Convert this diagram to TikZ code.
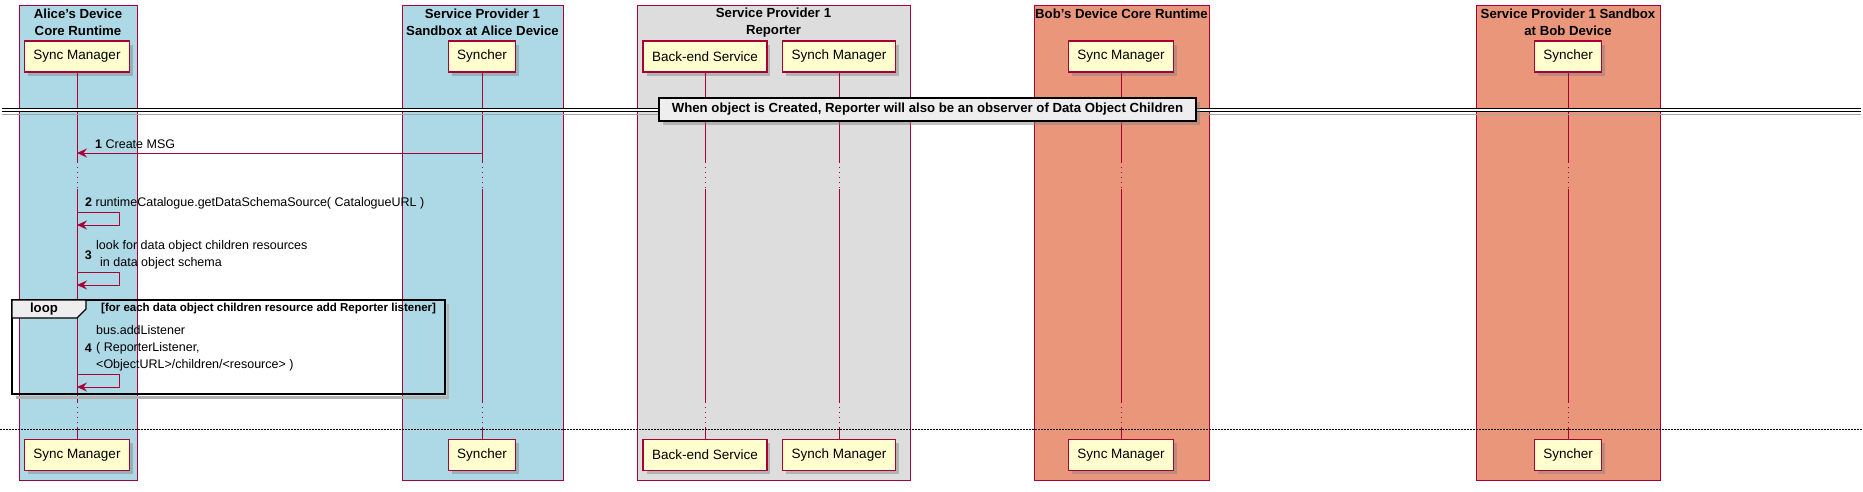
\documentclass[tikz,border=0pt]{standalone}
\usepackage{fontspec}
\setmainfont{Liberation Sans}
\usepackage{tikz}
\usetikzlibrary{arrows.meta,positioning,shadows}
\definecolor{umlred}{HTML}{A80036}
\definecolor{umlpart}{HTML}{FEFECE}
\definecolor{umlblue}{HTML}{ADD8E6}
\definecolor{umlgray}{HTML}{DDDDDD}
\definecolor{umlsalmon}{HTML}{E9967A}
\definecolor{umlnote}{HTML}{EEEEEE}

\begin{document}
\begin{tikzpicture}[x=1pt, y=-1pt,
    grp/.style={draw=umlred, line width=0.9pt},
    grptitle/.style={font=\fontsize{13.2}{17}\selectfont\bfseries, align=center, inner sep=0pt},
    part/.style={draw=umlred, line width=1.3pt, fill=umlpart, minimum height=31pt, inner xsep=9pt,
        font=\fontsize{13.5}{16}\selectfont,
        drop shadow={shadow xshift=3.5pt, shadow yshift=-3.5pt, opacity=0.45}},
    life/.style={draw=umlred, line width=0.7pt},
    lifedot/.style={life, dash pattern=on 1pt off 4pt},
    msg/.style={draw=umlred, line width=0.9pt, -{Stealth[length=10pt,width=9pt,inset=3.5pt]}},
    msgtxt/.style={font=\fontsize{12.5}{17}\selectfont, inner sep=0pt, align=left},
    msgnum/.style={font=\fontsize{12.5}{17}\selectfont\bfseries, inner sep=0pt}]

    \useasboundingbox (0,0) rectangle (1863,491);

    % ----------------------------------------------------
    % GROUP BOXES
    % ----------------------------------------------------
    \draw[grp, fill=umlblue] (19,5) rectangle (137,480);
    \node[grptitle] (titleAlice) at (78,22.5) {Alice's Device\\Core Runtime};

    \draw[grp, fill=umlblue] (402,5) rectangle (563,480);
    \node[grptitle] (titleSandboxA) at (482.5,22.5) {Service Provider 1\\Sandbox at Alice Device};

    \draw[grp, fill=umlgray] (637,5) rectangle (910,480);
    \node[grptitle] (titleReporter) at (773.5,22.5) {Service Provider 1\\Reporter};

    \draw[grp, fill=umlsalmon] (1034,5) rectangle (1209,480);
    \node[grptitle] (titleBob) at (1121.5,14) {Bob's Device Core Runtime};

    \draw[grp, fill=umlsalmon] (1476,5) rectangle (1660,480);
    \node[grptitle] (titleSandboxB) at (1568,22.5) {Service Provider 1 Sandbox\\at Bob Device};

    % ----------------------------------------------------
    % PARTICIPANTS (top and bottom)
    % ----------------------------------------------------
    \node[part] (smAliceTop) at (77,56.5) {Sync Manager};
    \node[part] (syncherATop) at (482,56.5) {Syncher};
    \node[part] (backendTop) at (705,56.5) {Back-end Service};
    \node[part] (synchMgrTop) at (839,56.5) {Synch Manager};
    \node[part] (smBobTop) at (1121,56.5) {Sync Manager};
    \node[part] (syncherBTop) at (1568,56.5) {Syncher};

    \node[part] (smAliceBot) at (77,455) {Sync Manager};
    \node[part] (syncherABot) at (482,455) {Syncher};
    \node[part] (backendBot) at (705,455) {Back-end Service};
    \node[part] (synchMgrBot) at (839,455) {Synch Manager};
    \node[part] (smBobBot) at (1121,455) {Sync Manager};
    \node[part] (syncherBBot) at (1568,455) {Syncher};

    % ----------------------------------------------------
    % LIFELINES
    % ----------------------------------------------------
    \coordinate (dotA) at (0,162);
    \coordinate (dotB) at (0,189);
    \coordinate (dotC) at (0,402);
    \coordinate (dotD) at (0,428);

    \draw[life] (smAliceTop.south) -- (smAliceTop.south |- dotA) (smAliceTop.south |- dotB) -- (smAliceTop.south |- dotC) (smAliceTop.south |- dotD) -- (smAliceBot.north);
    \draw[lifedot] (smAliceTop.south |- dotA) -- (smAliceTop.south |- dotB) (smAliceTop.south |- dotC) -- (smAliceTop.south |- dotD);
    \draw[life] (syncherATop.south) -- (syncherATop.south |- dotA) (syncherATop.south |- dotB) -- (syncherATop.south |- dotC) (syncherATop.south |- dotD) -- (syncherABot.north);
    \draw[lifedot] (syncherATop.south |- dotA) -- (syncherATop.south |- dotB) (syncherATop.south |- dotC) -- (syncherATop.south |- dotD);
    \draw[life] (backendTop.south) -- (backendTop.south |- dotA) (backendTop.south |- dotB) -- (backendTop.south |- dotC) (backendTop.south |- dotD) -- (backendBot.north);
    \draw[lifedot] (backendTop.south |- dotA) -- (backendTop.south |- dotB) (backendTop.south |- dotC) -- (backendTop.south |- dotD);
    \draw[life] (synchMgrTop.south) -- (synchMgrTop.south |- dotA) (synchMgrTop.south |- dotB) -- (synchMgrTop.south |- dotC) (synchMgrTop.south |- dotD) -- (synchMgrBot.north);
    \draw[lifedot] (synchMgrTop.south |- dotA) -- (synchMgrTop.south |- dotB) (synchMgrTop.south |- dotC) -- (synchMgrTop.south |- dotD);
    \draw[life] (smBobTop.south) -- (smBobTop.south |- dotA) (smBobTop.south |- dotB) -- (smBobTop.south |- dotC) (smBobTop.south |- dotD) -- (smBobBot.north);
    \draw[lifedot] (smBobTop.south |- dotA) -- (smBobTop.south |- dotB) (smBobTop.south |- dotC) -- (smBobTop.south |- dotD);
    \draw[life] (syncherBTop.south) -- (syncherBTop.south |- dotA) (syncherBTop.south |- dotB) -- (syncherBTop.south |- dotC) (syncherBTop.south |- dotD) -- (syncherBBot.north);
    \draw[lifedot] (syncherBTop.south |- dotA) -- (syncherBTop.south |- dotB) (syncherBTop.south |- dotC) -- (syncherBTop.south |- dotD);

    % ----------------------------------------------------
    % DIVIDER
    % ----------------------------------------------------
    \coordinate (divL) at (2,110);
    \coordinate (divR) at (1861,110);
    \draw[black!35, line width=1pt] (2,114) -- (1861,114);
    \draw[black, double=white, double distance=1.8pt, line width=1pt] (divL) -- (divR);
    \node[draw=black, line width=1.4pt, fill=umlnote, minimum width=537pt, minimum height=23pt, inner sep=0pt,
        font=\fontsize{13.2}{16}\selectfont\bfseries,
        drop shadow={shadow xshift=3.5pt, shadow yshift=-3.5pt, opacity=0.45}] (divNote) at (927.5,109.5)
        {When object is Created, Reporter will also be an observer of Data Object Children};

    % ----------------------------------------------------
    % MESSAGES
    % ----------------------------------------------------
    \coordinate (row1) at (0,153);
    \draw[msg] (syncherATop.south |- row1) -- (smAliceTop.south |- row1);
    \node[msgtxt, anchor=west] (msg1) at (95,144.5) {\textbf{1} Create MSG};

    \coordinate (row2a) at (0,212);
    \coordinate (row2b) at (0,225);
    \draw[msg] (smAliceTop.south |- row2a) -- ++(42,0) |- (smAliceTop.south |- row2b);
    \node[msgtxt, anchor=west] (msg2) at (85,203) {\textbf{2} runtimeCatalogue.getDataSchemaSource( CatalogueURL )};

    \coordinate (row3a) at (0,272);
    \coordinate (row3b) at (0,285);
    \draw[msg] (smAliceTop.south |- row3a) -- ++(42,0) |- (smAliceTop.south |- row3b);
    \node[msgtxt, anchor=west] (msg3) at (96,255) {look for data object children resources\\\hspace*{4pt}in data object schema};
    \node[msgnum, left=4pt of msg3] (num3) {3};

    % ----------------------------------------------------
    % LOOP
    % ----------------------------------------------------
    \draw[black!30, line width=2.5pt] (448,304) -- (448,397.5) -- (16,397.5);
    \draw[black, line width=1.5pt] (12,300) rectangle (445,394);
    \draw[black, line width=1.2pt, fill=umlnote] (12,300) -- (86,300) -- (86,309) -- (77,318) -- (12,318) -- cycle;
    \node[font=\fontsize{13.2}{16}\selectfont\bfseries, inner sep=0pt] (loopLbl) at (44,309.5) {loop};
    \node[font=\fontsize{11.5}{14}\selectfont\bfseries, inner sep=0pt, anchor=west] (loopGuard) at (101,308.5)
        {[for each data object children resource add Reporter listener]};

    \coordinate (row4a) at (0,374);
    \coordinate (row4b) at (0,387);
    \draw[msg] (smAliceTop.south |- row4a) -- ++(42,0) |- (smAliceTop.south |- row4b);
    \node[msgtxt, anchor=west] (msg4) at (96,348) {bus.addListener\\( ReporterListener,\\<ObjectURL>/children/<resource> )};
    \node[msgnum, left=4pt of msg4] (num4) {4};

    % ----------------------------------------------------
    % DELAY SEPARATOR
    % ----------------------------------------------------
    \coordinate (sepL) at (0,429);
    \coordinate (sepR) at (1863,429);
    \draw[black, line width=0.8pt, dash pattern=on 1.5pt off 1.5pt] (sepL) -- (sepR);
\end{tikzpicture}
\end{document}
